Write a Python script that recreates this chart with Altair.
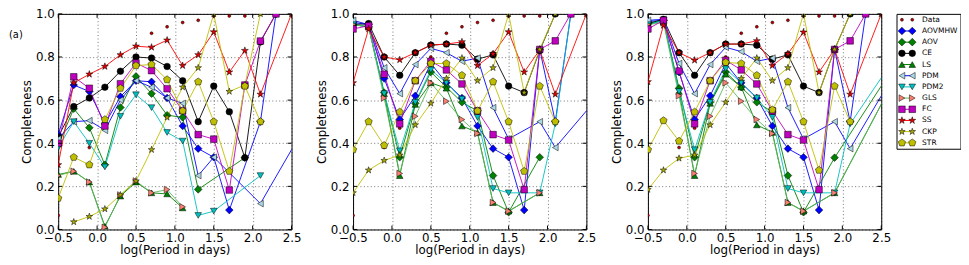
import altair as alt
import pandas as pd

N = None
X = [-0.5, -0.3, -0.1, 0.1, 0.3, 0.5, 0.7, 0.9, 1.1, 1.3, 1.5, 1.7, 1.9, 2.1, 2.3, 2.5, 2.7]
SERIES = ["Data", "AOVMHW", "AOV", "CE", "LS", "PDM", "PDM2", "GLS", "FC", "SS", "CKP", "STR"]
X_TICKS = [-0.5, 0.0, 0.5, 1.0, 1.5, 2.0, 2.5]
Y_TICKS = [0.0, 0.2, 0.4, 0.6, 0.8, 1.0]

DATA = [0.065, N, 0.38, 0.47, N, 0.80, 0.91, 0.94, 0.96, 0.97, 0.99, 0.99, 0.99, 1.0, 1.0, 1.0, N]

# panel (a)
a_AOVMHW = [0.44, 0.67, 0.64, 0.49, 0.616, 0.69, 0.685, 0.61, 0.48, 0.375, 0.335, 0.09, N, 0.50, 1.0, N, N]
a_AOV = [0.39, 0.56, 0.472, 0.30, 0.566, 0.71, 0.63, 0.53, 0.52, 0.186, N, N, 0.333, N, N, N, N]
a_CE = [0.43, 0.57, 0.61, 0.66, 0.734, 0.80, 0.795, 0.756, 0.69, 0.50, 0.665, 0.546, 0.333, 0.87, 1.0, N, N]
a_LS = [0.255, 0.27, 0.22, 0.015, 0.155, 0.22, 0.17, 0.165, 0.10, N, N, N, N, N, N, N, N]
a_PDM = [0.42, 0.50, 0.505, 0.46, 0.60, 0.69, 0.66, 0.61, 0.585, 0.25, 0.335, N, N, 0.12, N, N, 0.495]
a_PDM2 = [0.38, 0.50, 0.40, 0.29, 0.525, 0.625, 0.565, 0.45, 0.41, 0.065, 0.085, N, N, 0.25, N, N, N]
a_GLS = [0.25, 0.27, 0.22, 0.01, 0.16, 0.225, 0.17, 0.185, 0.105, N, N, N, N, N, N, N, N]
a_FC = [0.40, 0.708, 0.655, 0.48, 0.676, 0.772, 0.737, 0.653, 0.551, 0.44, 0.419, 0.183, 0.67, 0.874, 1.0, N, N]
a_SS = [0.30, 0.68, 0.72, 0.756, 0.81, 0.85, 0.845, 0.878, 0.76, 0.81, 0.916, 0.73, 0.83, 0.627, N, 1.0, N]
a_CKP = [N, 0.035, 0.06, 0.095, 0.16, 0.225, 0.37, 0.52, 0.66, 0.75, 1.0, 0.64, 0.67, 1.0, N, N, N]
a_STR = [0.145, 0.335, 0.30, 0.51, 0.655, 0.76, 0.765, 0.695, 0.55, 0.685, 0.50, 0.27, 0.665, 0.50, N, N, N]

# panel (b)
b_AOVMHW = [0.96, 0.95, 0.70, 0.51, 0.62, 0.77, 0.68, 0.61, 0.48, 0.375, 0.335, 0.09, 0.835, 0.50, 1.0, N, N]
b_AOV = [0.95, 0.94, 0.635, 0.335, 0.585, 0.73, 0.66, 0.59, 0.55, 0.25, 0.08, N, 0.335, N, N, N, N]
b_CE = [0.95, 0.955, 0.80, 0.715, 0.82, 0.855, 0.86, 0.855, 0.79, 0.81, 0.665, 0.635, 0.83, 1.0, N, N, N]
b_LS = [0.95, 0.94, 0.63, 0.25, 0.58, 0.68, 0.655, 0.48, 0.45, 0.125, 0.085, N, 0.17, N, N, N, N]
b_PDM = [0.97, 0.95, 0.75, 0.63, 0.765, 0.84, 0.82, 0.78, 0.795, 0.565, 0.42, N, 0.50, 0.38, N, N, 0.635]
b_PDM2 = [0.95, 0.94, 0.63, 0.365, 0.59, 0.74, 0.68, 0.605, 0.52, 0.19, 0.17, N, 0.17, 0.49, 1.0, N, N]
b_GLS = [0.95, 0.94, 0.61, 0.26, 0.525, 0.68, 0.595, 0.51, 0.445, 0.125, 0.085, N, 0.17, N, N, N, N]
b_FC = [0.93, 0.945, 0.72, 0.49, 0.69, 0.78, 0.74, 0.675, 0.55, 0.44, 0.415, 0.185, 0.835, 0.875, 1.0, N, N]
b_SS = [0.68, 0.93, 0.80, 0.787, 0.82, 0.855, 0.86, 0.87, 0.76, 0.815, 0.916, 0.73, 0.833, 0.627, N, 1.0, N]
b_CKP = [0.17, 0.275, 0.32, 0.345, 0.485, 0.585, 0.70, 0.795, 0.69, 0.75, 1.0, 0.635, 0.835, 1.0, N, N, N]
b_STR = [0.37, 0.50, 0.39, 0.545, 0.69, 0.77, 0.77, 0.715, 0.55, 0.685, 0.50, 0.27, 0.665, 0.50, N, N, N]

# panel (c)
c_AOVMHW = [0.965, 0.97, 0.73, 0.51, 0.62, 0.77, 0.68, 0.61, 0.48, 0.375, 0.335, 0.09, 0.835, 0.50, 1.0, N, N]
c_AOV = [0.955, 0.97, 0.655, 0.335, 0.59, 0.73, 0.66, 0.59, 0.545, 0.25, 0.08, N, 0.333, N, N, N, 0.776]
c_CE = [0.955, 0.975, 0.82, 0.715, 0.82, 0.86, 0.86, 0.855, 0.79, 0.81, 0.665, 0.635, 0.835, 1.0, N, N, N]
c_LS = [0.95, 0.97, 0.64, 0.25, 0.585, 0.72, 0.66, 0.485, 0.45, 0.125, 0.085, N, 0.17, N, N, N, 0.717]
c_PDM = [0.97, 0.975, 0.77, 0.63, 0.765, 0.845, 0.825, 0.78, 0.795, 0.565, 0.42, N, 0.50, 0.375, N, N, 0.742]
c_PDM2 = [0.95, 0.97, 0.64, 0.37, 0.59, 0.745, 0.68, 0.61, 0.52, 0.19, 0.17, N, 0.17, 0.49, N, N, 0.81]
c_GLS = [0.95, 0.96, 0.62, 0.26, 0.525, 0.68, 0.595, 0.51, 0.445, 0.125, 0.085, N, 0.17, N, N, N, 0.717]
c_FC = [0.93, 0.97, 0.735, 0.49, 0.69, 0.785, 0.74, 0.675, 0.55, 0.44, 0.415, 0.185, 0.835, 0.875, 1.0, N, N]
c_SS = [0.685, 0.947, 0.82, 0.785, 0.82, 0.86, 0.86, 0.875, 0.76, 0.815, 0.915, 0.73, 0.835, 0.627, N, 1.0, N]
c_CKP = [0.185, 0.275, 0.33, 0.345, 0.485, 0.59, 0.70, 0.795, 0.69, 0.75, 1.0, 0.635, 0.835, 1.0, N, N, N]
c_STR = [0.37, 0.505, 0.41, 0.545, 0.69, 0.775, 0.77, 0.715, 0.555, 0.685, 0.50, 0.275, 0.665, 0.50, N, N, N]

# ---- styles ----
STAR = "M0,-1L0.2245,-0.309L0.9511,-0.309L0.3633,0.118L0.5878,0.809L0,0.382L-0.5878,0.809L-0.3633,0.118L-0.9511,-0.309L-0.2245,-0.309Z"
PENT = "M0,-1L0.9511,-0.309L0.5878,0.809L-0.5878,0.809L-0.9511,-0.309Z"
LINE = {"Data": None, "AOVMHW": "#0000ff", "AOV": "#008000", "CE": "#000000", "LS": "#008000",
        "PDM": "#0000ff", "PDM2": "#00bfbf", "GLS": "#5cb85c", "FC": "#bf00bf", "SS": "#ff0000",
        "CKP": "#bfbf00", "STR": "#bfbf00"}
FILL = {"Data": "#c00000", "AOVMHW": "#0000ff", "AOV": "#008000", "CE": "#000000", "LS": "#008000",
        "PDM": "#add8e6", "PDM2": "#00bfbf", "GLS": "#fa8072", "FC": "#bf00bf", "SS": "#e00000",
        "CKP": "#a8a800", "STR": "#bfbf00"}
SHAPE = {"Data": "circle", "AOVMHW": "diamond", "AOV": "diamond", "CE": "circle", "LS": "triangle-up",
         "PDM": "triangle-left", "PDM2": "triangle-down", "GLS": "triangle-right", "FC": "square",
         "SS": STAR, "CKP": STAR, "STR": PENT}
SIZE = {"Data": 9, "AOVMHW": 60, "AOV": 60, "CE": 45, "LS": 45, "PDM": 45, "PDM2": 45, "GLS": 45,
        "FC": 45, "SS": 55, "CKP": 50, "STR": 60}

FONT = "DejaVu Sans"
W, H = 237, 219
TICK_LEN = 4


def long_df(lists):
    rows = []
    for s, vals in zip(SERIES, lists):
        for x, v in zip(X, vals):
            if v is not None:
                rows.append(dict(x=x, y=v, series=s, fill=FILL[s], shape=SHAPE[s],
                                 size=SIZE[s], lc=LINE[s] if LINE[s] else ""))
    return pd.DataFrame(rows)


def panel(lists, label=None):
    df = long_df(lists)
    xenc = alt.X("x:Q", scale=alt.Scale(domain=[-0.5, 2.5], nice=False),
                 axis=alt.Axis(values=X_TICKS, format=".1f", title="log(Period in days)"))
    yenc = alt.Y("y:Q", scale=alt.Scale(domain=[0, 1], nice=False),
                 axis=alt.Axis(values=Y_TICKS, format=".1f", title="Completeness"))
    base = alt.Chart(df)
    lines = base.transform_filter("datum.lc != ''").mark_line(
        clip=True, strokeWidth=1, strokeOpacity=0.9).encode(
        x=xenc, y=yenc, detail="series:N", stroke=alt.Stroke("lc:N", scale=None))
    pts = base.mark_point(filled=True, clip=True, stroke="black", strokeWidth=0.5, opacity=1).encode(
        x=xenc, y=yenc,
        fill=alt.Fill("fill:N", scale=None),
        shape=alt.Shape("shape:N", scale=None),
        size=alt.Size("size:Q", scale=None))
    # inward tick marks on all four sides (positions from the scales)
    xt = alt.Chart(pd.DataFrame({"x": X_TICKS}))
    yt = alt.Chart(pd.DataFrame({"y": Y_TICKS}))
    tb = xt.mark_rule(color="black", strokeWidth=1).encode(x=xenc, y=alt.value(H), y2=alt.value(H - TICK_LEN))
    tt = xt.mark_rule(color="black", strokeWidth=1).encode(x=xenc, y=alt.value(0), y2=alt.value(TICK_LEN))
    tl = yt.mark_rule(color="black", strokeWidth=1).encode(y=yenc, x=alt.value(0), x2=alt.value(TICK_LEN))
    tr = yt.mark_rule(color="black", strokeWidth=1).encode(y=yenc, x=alt.value(W), x2=alt.value(W - TICK_LEN))
    layers = [lines, pts, tb, tt, tl, tr]
    if label:
        lab = alt.Chart(pd.DataFrame({"t": [label]})).mark_text(
            font=FONT, fontSize=10, align="center", baseline="middle").encode(
            text="t:N", x=alt.value(-43), y=alt.value(21))
        layers.append(lab)
    return alt.layer(*layers).properties(width=W, height=H)


p1 = panel([DATA, a_AOVMHW, a_AOV, a_CE, a_LS, a_PDM, a_PDM2, a_GLS, a_FC, a_SS, a_CKP, a_STR], "(a)")
p2 = panel([DATA, b_AOVMHW, b_AOV, b_CE, b_LS, b_PDM, b_PDM2, b_GLS, b_FC, b_SS, b_CKP, b_STR])
p3 = panel([DATA, c_AOVMHW, c_AOV, c_CE, c_LS, c_PDM, c_PDM2, c_GLS, c_FC, c_SS, c_CKP, c_STR])

# ---- legend ----
LEG_X = [5.5, 16]
LEG_TX = 26
NS = len(SERIES)
leg_rows = []
for i, s in enumerate(SERIES):
    for lx in LEG_X:
        leg_rows.append(dict(lx=lx, i=i, series=s, fill=FILL[s], shape=SHAPE[s],
                             size=SIZE[s], lc=LINE[s] if LINE[s] else ""))
leg_df = pd.DataFrame(leg_rows)
txt_df = pd.DataFrame({"lx": [LEG_TX] * NS, "i": list(range(NS)), "series": SERIES})
lx_enc = alt.X("lx:Q", scale=alt.Scale(domain=[0, 65], nice=False), axis=None)
ly_enc = alt.Y("i:Q", scale=alt.Scale(domain=[-0.53, NS - 1 + 0.53], nice=False, reverse=True), axis=None)
leg_lines = alt.Chart(leg_df).transform_filter("datum.lc != ''").mark_line(strokeWidth=1).encode(
    x=lx_enc, y=ly_enc, detail="series:N", stroke=alt.Stroke("lc:N", scale=None))
leg_pts = alt.Chart(leg_df).mark_point(filled=True, stroke="black", strokeWidth=0.5, opacity=1).encode(
    x=lx_enc, y=ly_enc, fill=alt.Fill("fill:N", scale=None),
    shape=alt.Shape("shape:N", scale=None), size=alt.Size("size:Q", scale=None))
leg_txt = alt.Chart(txt_df).mark_text(font=FONT, fontSize=7.6, align="left", baseline="middle").encode(
    x=lx_enc, y=ly_enc, text="series:N")
legend = alt.layer(leg_lines, leg_pts, leg_txt).properties(width=65, height=137)

panels = alt.hconcat(p1, p2, p3, spacing=12.5)
chart = alt.hconcat(panels, legend, spacing=3.5).properties(
    padding={"left": 0, "top": -3, "right": 0, "bottom": 0}
).configure(font=FONT).configure_view(
    stroke="black", strokeWidth=1
).configure_axis(
    labelFont=FONT, labelFontSize=12, labelColor="black", labelFlush=False, labelOverlap=False,
    titleFont=FONT, titleFontSize=12, titleFontWeight="normal", titleColor="black",
    grid=True, gridColor="black", gridDash=[1, 2.5], gridWidth=0.7, gridOpacity=0.8,
    domain=False, ticks=False
).configure_axisX(labelPadding=3, titlePadding=1).configure_axisY(labelPadding=4, titlePadding=2)

chart.save("out.html", embed_options={"renderer": "svg", "actions": False})
